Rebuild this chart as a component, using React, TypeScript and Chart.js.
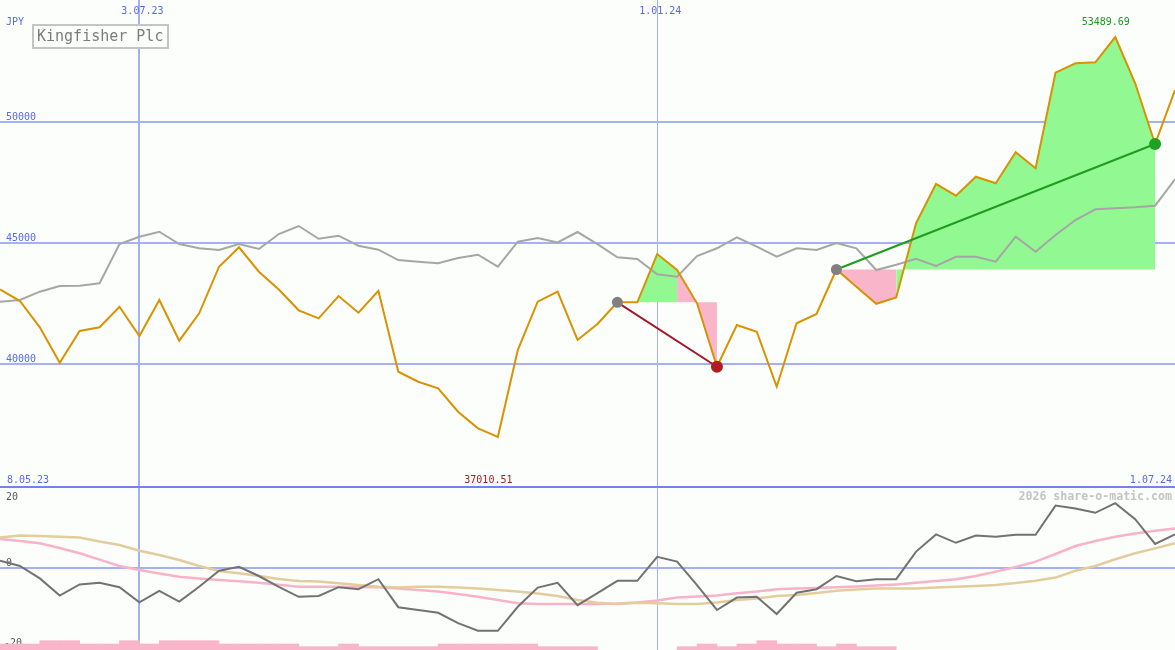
import React, { useEffect, useRef } from "react";
import { Chart, registerables } from "chart.js";

Chart.register(...registerables);

// ---------- data (weekly points, index 0..59) ----------
const price = [
  43092, 42609, 41525, 40066, 41373, 41525, 42374, 41167, 42650, 40973,
  42102, 44023, 44823, 43817, 43083, 42226, 41896, 42815, 42127, 43034,
  39695, 39283, 39011, 38046, 37362, 37010.51, 40589, 42580, 42993, 41002,
  41661, 42556, 42556, 44547, 43887, 42514, 39900, 41620, 41344, 39077,
  41690, 42073, 43908, 43199, 42494, 42754, 45824, 47432, 46950, 47733,
  47461, 48739, 48079, 52020, 52407, 52448, 53489.69, 51583, 49081, 51307,
];

const benchmark = [
  42580, 42650, 42993, 43228, 43240, 43339, 44959, 45260, 45466, 44959,
  44782, 44711, 44959, 44753, 45371, 45701, 45177, 45301, 44889, 44724,
  44299, 44229, 44163, 44382, 44518, 44023, 45054, 45206, 45021, 45453,
  44951, 44411, 44340, 43710, 43611, 44464, 44782, 45235, 44848, 44435,
  44782, 44711, 45000, 44782, 43887, 44106, 44353, 44052, 44435, 44435,
  44229, 45260, 44641, 45330, 45948, 46389, 46430, 46472, 46538, 47626,
];

const momentum = [
  1.8, 0.5, -2.6, -6.9, -4.1, -3.7, -4.8, -8.6, -5.7, -8.4,
  -4.7, -0.7, 0.3, -2.0, -4.7, -7.2, -7.0, -4.8, -5.3, -2.8,
  -9.8, -10.5, -11.2, -13.8, -15.7, -15.7, -9.7, -4.9, -3.7, -9.3,
  -6.3, -3.2, -3.2, 2.8, 1.6, -4.3, -10.5, -7.4, -7.2, -11.5,
  -6.2, -5.3, -2.0, -3.3, -2.8, -2.8, 4.1, 8.4, 6.3, 8.1,
  7.8, 8.3, 8.3, 15.6, 14.9, 13.8, 16.2, 12.2, 6.0, 8.4,
];

const averageFast = [
  7.25, 6.75, 6.2, 5.0, 3.7, 2.1, 0.5, -0.5, -1.4, -2.2,
  -2.6, -3.0, -3.3, -3.7, -4.2, -4.7, -4.7, -4.7, -4.75, -4.8,
  -5.1, -5.5, -5.9, -6.5, -7.2, -8.0, -8.8, -9.0, -9.0, -9.0,
  -9.0, -8.9, -8.6, -8.1, -7.4, -7.1, -6.9, -6.3, -5.9, -5.3,
  -5.1, -5.0, -4.8, -4.6, -4.4, -4.1, -3.7, -3.25, -2.8, -2.0,
  -0.9, 0.25, 1.6, 3.5, 5.5, 6.75, 7.8, 8.6, 9.3, 9.9,
];

const averageSlow = [
  7.6, 8.1, 8.0, 7.8, 7.6, 6.6, 5.75, 4.3, 3.25, 2.0,
  0.5, -0.75, -1.3, -2.0, -2.75, -3.25, -3.4, -3.8, -4.25, -4.7,
  -4.9, -4.7, -4.7, -4.9, -5.1, -5.5, -5.9, -6.4, -7.0, -8.0,
  -8.7, -9.0, -8.7, -8.8, -9.0, -9.0, -8.6, -8.0, -7.6, -7.0,
  -6.75, -6.25, -5.7, -5.4, -5.1, -5.1, -5.1, -4.9, -4.7, -4.5,
  -4.25, -3.75, -3.2, -2.4, -0.7, 0.5, 2.2, 3.7, 4.9, 6.2,
];

const volume = [
  6, 6, 9.3, 9.3, 6, 6, 9.3, 6, 9.3, 9.3,
  9.3, 6, 6, 6, 6, 3.3, 3.3, 6, 3.3, 3.3,
  3.3, 3.3, 6, 6, 6, 6, 6, 3.3, 3.3, 3.3,
  0, 0, 0, 0, 3.3, 6, 3.3, 6, 9.3, 6,
  6, 3.3, 6, 3.3, 3.3, 0, 0, 0, 0, 0,
  0, 0, 0, 0, 0, 0, 0, 0, 0, 0,
];

const priceTicks = [40000, 45000, 50000];
const oscTicks = [20, 0, -20];
const dateLines = [
  { index: 7, label: "3.07.23", width: 2 },
  { index: 33, label: "1.01.24", width: 1 },
];
const startLabel = "8.05.23";
const endLabel = "1.07.24";
const lowIndex = 25;
const lowLabel = "37010.51";
const highIndex = 56;
const highLabel = "53489.69";
const title = "Kingfisher Plc";
const currency = "JPY";
const credit = "2026 share-o-matic.com";

const trades = [
  { from: 31, to: 36, color: "#a3182a", dot: "#b21c1c" },
  { from: 42, to: 58, color: "#1f9c1f", dot: "#22a022" },
];

// ---------- styles ----------
const W = 1175;
const TOP_H = 486;
const BOT_H = 164;
const BG = "#fcfefc";
const GRID = "#a4b1f5";
const SEP = "#7282ee";
const TICK_TXT = "#5868ee";
const GREEN_FILL = "#92f892";
const PINK_FILL = "#f9b5c9";
const MONO = "'DejaVu Sans Mono', monospace";

const pts = (arr: number[]) => arr.map((v, k) => ({ x: k, y: v }));

const topDecor = {
  id: "topDecor",
  beforeDatasetsDraw(chart: any) {
    const { ctx, scales } = chart;
    const x = scales.x;
    const y = scales.y;
    ctx.save();
    ctx.strokeStyle = GRID;
    priceTicks.forEach((v) => {
      const py = Math.round(y.getPixelForValue(v));
      ctx.lineWidth = 2;
      ctx.beginPath();
      ctx.moveTo(0, py);
      ctx.lineTo(W, py);
      ctx.stroke();
    });
    dateLines.forEach((d) => {
      const px = Math.round(x.getPixelForValue(d.index));
      ctx.lineWidth = d.width;
      const off = d.width === 1 ? 0.5 : 0;
      ctx.beginPath();
      ctx.moveTo(px + off, 0);
      ctx.lineTo(px + off, TOP_H);
      ctx.stroke();
    });
    // title box
    ctx.fillStyle = BG;
    ctx.fillRect(33, 25, 135, 23);
    ctx.strokeStyle = "#c4c4c4";
    ctx.lineWidth = 2;
    ctx.strokeRect(33, 25, 135, 23);
    ctx.fillStyle = "#7c7c7c";
    ctx.font = `15px ${MONO}`;
    ctx.textAlign = "left";
    ctx.textBaseline = "alphabetic";
    ctx.fillText(title, 37, 41);

    ctx.font = `10px ${MONO}`;
    ctx.fillStyle = TICK_TXT;
    ctx.fillText(currency, 6, 25);
    priceTicks.forEach((v) => {
      const py = Math.round(y.getPixelForValue(v));
      ctx.fillText(String(v), 6, py - 2);
    });
    ctx.textAlign = "center";
    dateLines.forEach((d) => {
      ctx.fillText(d.label, x.getPixelForValue(d.index) + 3, 13.5);
    });
    ctx.textAlign = "left";
    ctx.fillText(startLabel, 7, 483);
    ctx.textAlign = "right";
    ctx.fillText(endLabel, 1172, 483);
    ctx.textAlign = "center";
    ctx.fillStyle = "#a01c1c";
    ctx.fillText(lowLabel, x.getPixelForValue(lowIndex) - 9.5, 483);
    ctx.fillStyle = "#1f9a1f";
    ctx.fillText(highLabel, x.getPixelForValue(highIndex) - 9.5, 25);
    ctx.restore();
  },
};

const bottomDecor = {
  id: "bottomDecor",
  beforeDatasetsDraw(chart: any) {
    const { ctx, scales } = chart;
    const x = scales.x;
    const y = scales.y;
    ctx.save();
    ctx.strokeStyle = GRID;
    const zy = Math.round(y.getPixelForValue(0));
    ctx.lineWidth = 2;
    ctx.beginPath();
    ctx.moveTo(0, zy);
    ctx.lineTo(W, zy);
    ctx.stroke();
    dateLines.forEach((d) => {
      const px = Math.round(x.getPixelForValue(d.index));
      ctx.lineWidth = d.width;
      const off = d.width === 1 ? 0.5 : 0;
      ctx.beginPath();
      ctx.moveTo(px + off, 0);
      ctx.lineTo(px + off, BOT_H);
      ctx.stroke();
    });
    ctx.fillStyle = SEP;
    ctx.fillRect(0, 0, W, 2);

    ctx.font = `10px ${MONO}`;
    ctx.fillStyle = "#585858";
    ctx.textAlign = "left";
    ctx.textBaseline = "alphabetic";
    const labelY: Record<number, number> = { 20: 13.5, 0: 80, [-20]: 160 };
    oscTicks.forEach((v) => {
      ctx.fillText(String(v), v < 0 ? 4 : 6, labelY[v]);
    });
    ctx.font = `bold 11.6px ${MONO}`;
    ctx.fillStyle = "#c4c4c4";
    ctx.textAlign = "right";
    ctx.fillText(credit, 1172, 14);
    ctx.restore();
  },
};

const baseOptions = (yMin: number, yMax: number, extraScales: any = {}) => ({
  animation: false as const,
  responsive: false,
  devicePixelRatio: 1,
  events: [],
  layout: { padding: 0, autoPadding: false },
  plugins: { legend: { display: false }, tooltip: { enabled: false } },
  elements: { line: { tension: 0 }, point: { radius: 0, hoverRadius: 0 } },
  scales: {
    x: { type: "linear", min: 0, max: 59, display: false, offset: false },
    y: { type: "linear", min: yMin, max: yMax, display: false },
    ...extraScales,
  },
});

export default function App() {
  const topRef = useRef<HTMLCanvasElement>(null);
  const botRef = useRef<HTMLCanvasElement>(null);

  useEffect(() => {
    const fills = trades.map((t) => {
      const base = price[t.from];
      return {
        type: "line",
        data: price.slice(t.from, t.to + 1).map((v, j) => ({ x: t.from + j, y: v })),
        borderWidth: 0,
        borderColor: "rgba(0,0,0,0)",
        backgroundColor: GREEN_FILL,
        pointRadius: 0,
        fill: { target: { value: base } },
        segment: {
          backgroundColor: (c: any) => (c.p1.parsed.y >= base ? GREEN_FILL : PINK_FILL),
        },
        order: 10,
      };
    });
    const trendLines = trades.map((t) => ({
      type: "line",
      data: [
        { x: t.from, y: price[t.from] },
        { x: t.to, y: price[t.to] },
      ],
      borderColor: t.color,
      borderWidth: 2,
      pointRadius: 0,
      fill: false,
      order: 4,
    }));
    const dots = trades.map((t) => ({
      type: "line",
      data: [
        { x: t.from, y: price[t.from] },
        { x: t.to, y: price[t.to] },
      ],
      showLine: false,
      pointRadius: [5.5, 6],
      pointBackgroundColor: ["#808080", t.dot],
      pointBorderWidth: 0,
      pointBorderColor: "rgba(0,0,0,0)",
      order: 2,
    }));

    const top = new Chart(topRef.current as HTMLCanvasElement, {
      type: "line",
      data: {
        datasets: [
          ...dots,
          ...trendLines,
          {
            type: "line",
            data: pts(price),
            borderColor: "#d99200",
            borderWidth: 2,
            pointRadius: 0,
            fill: false,
            order: 6,
          },
          {
            type: "line",
            data: pts(benchmark),
            borderColor: "#a6a6a6",
            borderWidth: 2,
            pointRadius: 0,
            fill: false,
            order: 8,
          },
          ...fills,
        ] as any,
      },
      options: baseOptions(34984, 55017) as any,
      plugins: [topDecor],
    });

    const bottom = new Chart(botRef.current as HTMLCanvasElement, {
      type: "line",
      data: {
        datasets: [
          {
            type: "line",
            data: pts(momentum),
            borderColor: "#727272",
            borderWidth: 2,
            pointRadius: 0,
            order: 1,
          },
          {
            type: "line",
            data: pts(averageSlow),
            borderColor: "#e3cd9d",
            borderWidth: 2.5,
            pointRadius: 0,
            order: 2,
          },
          {
            type: "line",
            data: pts(averageFast),
            borderColor: "#f8b3c9",
            borderWidth: 2.5,
            pointRadius: 0,
            order: 3,
          },
          {
            type: "bar",
            data: volume
              .map((v, k) => ({ x: k + 0.5, y: v }))
              .filter((p) => p.y > 0),
            backgroundColor: "#f9b5c9",
            borderWidth: 0,
            barPercentage: 1,
            categoryPercentage: 1,
            yAxisID: "yv",
            order: 5,
          },
        ] as any,
      },
      options: baseOptions(-20.5, 20.5, {
        yv: { type: "linear", min: 0, max: BOT_H, display: false },
      }) as any,
      plugins: [bottomDecor],
    });

    return () => {
      top.destroy();
      bottom.destroy();
    };
  }, []);

  return (
    <div
      style={{
        position: "absolute",
        left: 0,
        top: 0,
        width: W,
        height: TOP_H + BOT_H,
        background: BG,
        overflow: "hidden",
      }}
    >
      <canvas
        ref={topRef}
        width={W}
        height={TOP_H}
        style={{ position: "absolute", left: 0, top: 0, width: W, height: TOP_H }}
      />
      <canvas
        ref={botRef}
        width={W}
        height={BOT_H}
        style={{ position: "absolute", left: 0, top: TOP_H, width: W, height: BOT_H }}
      />
    </div>
  );
}
